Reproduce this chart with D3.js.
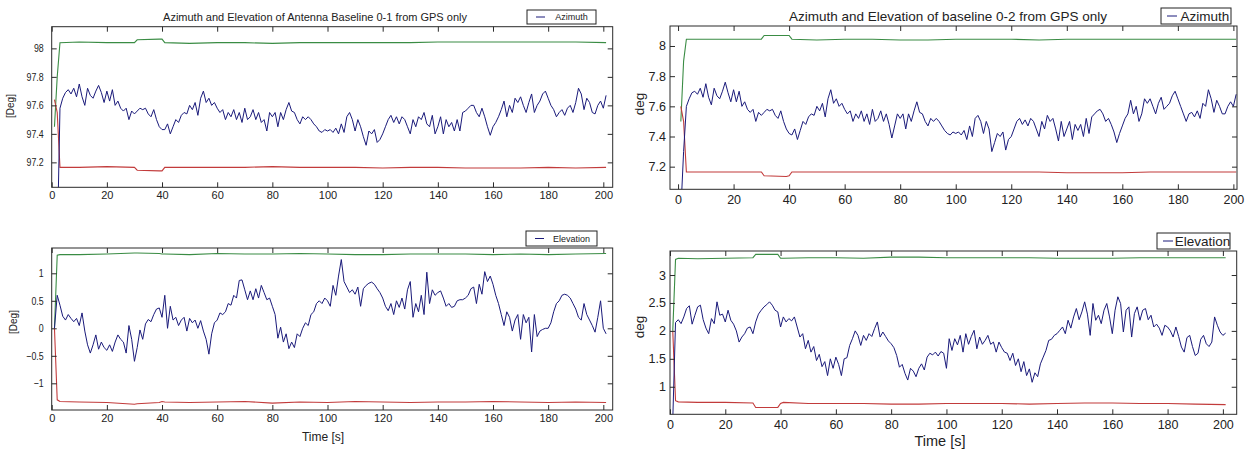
<!DOCTYPE html>
<html><head><meta charset="utf-8">
<script src="https://cdn.jsdelivr.net/npm/d3@7"></script>
<style>
body{margin:0;background:#fff}
svg{display:block}
text{font-family:"Liberation Sans",Arial,Helvetica,sans-serif;fill:#222}
</style>
</head><body><svg id="c" width="1245" height="453"></svg>
<script>
// ---------------- DATA ----------------
const time = d3.range(1, 202); // samples every 1 s, t = 1..201
const boundTime = [1, 2, 3, 10, 20, 30, 31, 39, 40, 41, 50, 60, 70, 80, 90, 100, 110, 120, 130, 140, 150, 160, 170, 180, 190, 201];

const azimuth01 = [
96.5,96.6,97.58,97.65,97.69,97.71,97.68,97.72,97.66,97.75,
97.66,97.60,97.72,97.67,97.65,97.70,97.74,97.69,97.62,97.70,
97.63,97.71,97.60,97.63,97.58,97.56,97.58,97.50,97.56,97.54,
97.56,97.58,97.57,97.58,97.54,97.52,97.57,97.50,97.45,97.43,
97.43,97.47,97.40,97.45,97.50,97.48,97.53,97.55,97.54,97.60,
97.57,97.62,97.53,97.65,97.70,97.62,97.65,97.60,97.62,97.58,
97.55,97.57,97.50,97.55,97.52,97.57,97.50,97.55,97.48,97.58,
97.50,97.52,97.57,97.50,97.55,97.48,97.50,97.42,97.55,97.52,
97.55,97.45,97.55,97.50,97.57,97.62,97.56,97.55,97.50,97.47,
97.52,97.50,97.52,97.50,97.47,97.45,97.42,97.41,97.43,97.42,
97.43,97.41,97.44,97.40,97.47,97.41,97.52,97.55,97.50,97.42,
97.50,97.45,97.38,97.32,97.42,97.40,97.43,97.34,97.36,97.40,
97.45,97.50,97.53,97.48,97.52,97.47,97.52,97.50,97.45,97.40,
97.50,97.45,97.52,97.50,97.55,97.47,97.45,97.53,97.40,97.45,
97.52,97.40,97.50,97.45,97.48,97.42,97.50,97.42,97.55,97.56,
97.58,97.60,97.60,97.55,97.52,97.58,97.52,97.45,97.39,97.45,
97.48,97.52,97.57,97.63,97.52,97.60,97.55,97.65,97.62,97.66,
97.60,97.55,97.62,97.68,97.55,97.60,97.63,97.68,97.70,97.65,
97.60,97.57,97.52,97.55,97.57,97.53,97.58,97.60,97.55,97.62,
97.72,97.68,97.57,97.65,97.62,97.55,97.54,97.60,97.63,97.58,
97.67];

const elevation01 = [
0.00,0.60,0.42,0.22,0.15,0.25,0.18,0.12,0.18,0.05,
0.28,-0.05,-0.30,-0.45,-0.30,-0.12,-0.38,-0.25,-0.35,-0.40,
-0.30,-0.42,-0.25,-0.12,-0.20,-0.25,-0.45,0.05,-0.20,-0.60,
-0.35,-0.03,-0.20,0.08,0.16,0.12,0.25,0.35,0.37,0.20,
0.60,0.00,0.40,0.15,0.20,0.05,0.15,0.20,-0.05,0.18,
0.10,0.15,0.00,0.14,-0.05,-0.20,-0.47,-0.10,0.10,0.15,
0.28,0.25,0.30,0.45,0.42,0.60,0.55,0.87,0.88,0.70,
0.52,0.68,0.52,0.72,0.55,0.78,0.65,0.52,0.55,0.40,
0.25,-0.18,0.02,-0.25,-0.10,-0.37,-0.25,-0.35,-0.10,-0.15,
0.00,0.10,0.05,0.25,0.30,0.45,0.50,0.45,0.55,0.50,
0.40,0.78,0.60,0.95,1.25,0.85,0.75,0.65,0.70,0.62,
0.75,0.40,0.72,0.78,0.82,0.84,0.80,0.72,0.65,0.55,
0.40,0.32,0.45,0.25,0.50,0.38,0.55,0.35,0.70,0.85,
0.20,0.45,0.30,0.60,0.25,1.02,0.45,0.70,0.60,0.65,
0.68,0.55,0.40,0.45,0.38,0.40,0.50,0.52,0.52,0.55,
0.60,0.72,0.75,0.45,0.80,0.62,1.03,0.85,0.95,0.80,
0.60,0.45,0.25,0.05,0.30,0.20,-0.05,0.15,0.25,-0.20,
0.25,0.10,0.20,-0.43,0.25,-0.15,-0.05,-0.02,0.00,0.00,
0.10,0.30,0.45,0.50,0.60,0.62,0.60,0.55,0.45,0.35,
0.20,0.15,0.45,0.25,0.15,0.05,-0.07,0.20,0.50,0.00,
-0.10];

const azimuth02 = [
6.90,7.30,7.60,7.65,7.69,7.70,7.68,7.72,7.66,7.75,
7.66,7.61,7.72,7.67,7.65,7.70,7.76,7.69,7.63,7.71,
7.63,7.70,7.60,7.63,7.58,7.56,7.58,7.50,7.56,7.54,
7.56,7.58,7.57,7.58,7.54,7.52,7.57,7.50,7.45,7.42,
7.41,7.45,7.38,7.44,7.50,7.48,7.53,7.55,7.54,7.60,
7.57,7.62,7.53,7.65,7.71,7.62,7.65,7.60,7.62,7.58,
7.55,7.57,7.50,7.55,7.52,7.57,7.50,7.55,7.48,7.58,
7.50,7.52,7.57,7.50,7.55,7.48,7.39,7.47,7.55,7.52,
7.55,7.45,7.55,7.50,7.57,7.63,7.56,7.55,7.50,7.47,
7.52,7.50,7.52,7.50,7.47,7.44,7.42,7.41,7.43,7.42,
7.43,7.41,7.44,7.38,7.47,7.40,7.52,7.54,7.50,7.42,
7.50,7.45,7.30,7.36,7.42,7.40,7.43,7.31,7.38,7.40,
7.45,7.50,7.52,7.48,7.51,7.47,7.52,7.50,7.45,7.40,
7.50,7.45,7.54,7.50,7.52,7.45,7.37,7.50,7.40,7.45,
7.50,7.38,7.48,7.44,7.48,7.40,7.52,7.42,7.53,7.55,
7.57,7.58,7.55,7.50,7.52,7.48,7.43,7.36,7.42,7.47,
7.52,7.55,7.64,7.55,7.60,7.50,7.55,7.65,7.62,7.65,
7.60,7.55,7.62,7.66,7.58,7.60,7.62,7.67,7.70,7.65,
7.60,7.55,7.50,7.55,7.56,7.53,7.57,7.52,7.62,7.60,
7.71,7.65,7.56,7.64,7.60,7.55,7.55,7.60,7.63,7.60,
7.68];

const elevation02 = [
0.40,2.15,2.20,2.13,2.25,2.40,2.45,2.12,2.28,2.43,
2.46,2.20,2.05,1.95,2.22,2.13,2.52,2.28,2.30,2.16,
2.37,2.19,2.12,2.00,1.80,1.89,1.95,2.05,2.07,1.95,
2.16,2.30,2.37,2.43,2.47,2.52,2.46,2.37,2.34,2.07,
2.25,2.16,2.22,2.18,2.25,2.07,1.89,1.95,1.68,1.83,
1.62,1.72,1.47,1.58,1.36,1.45,1.20,1.50,1.33,1.53,
1.40,1.20,1.50,1.52,1.74,1.86,2.00,1.92,1.74,1.92,
1.83,1.95,1.90,2.04,2.16,1.89,1.98,1.90,1.82,1.77,
1.70,1.56,1.35,1.40,1.24,1.12,1.33,1.28,1.18,1.33,
1.41,1.30,1.53,1.60,1.57,1.62,1.55,1.63,1.60,1.33,
1.86,1.65,1.86,1.75,1.92,1.62,1.95,1.76,1.90,2.01,
1.68,1.89,1.76,1.83,1.92,1.76,1.80,1.62,1.80,1.70,
1.62,1.60,1.47,1.60,1.38,1.50,1.27,1.45,1.20,1.32,
1.08,1.25,1.18,1.41,1.53,1.65,1.83,1.85,1.92,1.95,
2.01,2.07,1.95,2.19,2.05,2.25,2.40,2.20,2.34,2.52,
2.30,1.92,2.49,2.19,2.28,2.13,2.37,2.49,2.25,1.95,
2.37,2.61,2.49,1.98,2.37,2.43,1.89,2.31,2.43,2.19,
2.37,2.40,2.20,2.28,2.07,2.12,2.05,1.92,2.10,2.07,
2.00,1.89,2.07,1.90,1.71,1.62,1.88,1.92,1.72,1.56,
1.60,1.85,1.92,1.77,1.72,1.80,2.25,2.10,1.98,1.92,
1.96];

const azUpper01 = [97.45,97.80,98.04,98.045,98.04,98.04,98.06,98.065,98.065,98.04,98.035,98.04,98.04,98.035,98.04,98.04,98.04,98.04,98.04,98.045,98.045,98.045,98.045,98.045,98.045,98.04];
const azLower01 = [97.64,97.55,97.165,97.165,97.17,97.165,97.145,97.14,97.14,97.165,97.165,97.165,97.165,97.17,97.165,97.165,97.165,97.16,97.165,97.165,97.16,97.16,97.16,97.165,97.16,97.165];
const elUpper01 = [0.00,1.33,1.34,1.34,1.35,1.37,1.37,1.36,1.35,1.35,1.34,1.36,1.35,1.35,1.36,1.35,1.34,1.34,1.35,1.35,1.35,1.34,1.35,1.34,1.35,1.36];
const elLower01 = [0.00,-1.30,-1.33,-1.34,-1.35,-1.38,-1.37,-1.35,-1.33,-1.34,-1.35,-1.34,-1.33,-1.36,-1.34,-1.35,-1.33,-1.34,-1.35,-1.34,-1.34,-1.33,-1.34,-1.35,-1.34,-1.35];
const azUpper02 = [7.50,7.90,8.045,8.045,8.045,8.045,8.07,8.07,8.07,8.045,8.04,8.045,8.045,8.04,8.04,8.045,8.045,8.045,8.04,8.045,8.045,8.045,8.045,8.045,8.045,8.045];
const azLower02 = [7.60,7.50,7.165,7.165,7.165,7.165,7.14,7.135,7.14,7.165,7.165,7.165,7.165,7.165,7.165,7.165,7.165,7.165,7.165,7.16,7.16,7.16,7.165,7.165,7.165,7.165];
const elUpper02 = [2.00,3.28,3.30,3.29,3.30,3.31,3.37,3.37,3.30,3.30,3.31,3.31,3.30,3.32,3.32,3.31,3.31,3.31,3.31,3.30,3.30,3.30,3.31,3.31,3.31,3.31];
const elLower02 = [2.00,0.75,0.73,0.72,0.72,0.71,0.63,0.63,0.70,0.72,0.70,0.70,0.70,0.69,0.69,0.70,0.70,0.70,0.69,0.70,0.71,0.71,0.70,0.70,0.69,0.68];

const xTicks = [0,20,40,60,80,100,120,140,160,180,200];
const yTicksAz01 = [97.2,97.4,97.6,97.8,98];
const yTicksEl01 = [-1,-0.5,0,0.5,1];
const yTicksAz02 = [7.2,7.4,7.6,7.8,8];
const yTicksEl02 = [1,1.5,2,2.5,3];

const titles = ["Azimuth and Elevation of Antenna Baseline 0-1 from GPS only", "Azimuth and Elevation of baseline 0-2 from GPS only"];
const legendLabels = ["Azimuth", "Elevation"];
const yLabels = ["[Deg]", "deg"];
const xLabel = "Time [s]";

// ---------------- DRAW ----------------
const svg = d3.select("#c");
const C = {blue:"#1a1a7a", green:"#3a8c44", red:"#c23b3b", axis:"#2a2a2a"};

const small = {tick:11, tickSqueeze:0.8, ylab:10, xlab:12, leg:9, title:11, yPad:8, xPad:4, legLine:[9,18]};
const large = {tick:12.5, tickSqueeze:1, ylab:13.5, xlab:14.5, leg:13.5, title:13.5, yPad:4, xPad:6, legLine:[6,16]};

const panels = [
  {l:51.7, r:612.7, t:26.7, b:187.3, xd:[0,203.4], yd:[97.025,98.152], y:azimuth01, up:azUpper01, lo:azLower01, yt:yTicksAz01,
   st:small, title:titles[0], tx:315, ty:21, leg:legendLabels[0], lb:[527,10,596,24], ylab:yLabels[0], ylx:14, yly:106, xlab:null},
  {l:51.7, r:612.7, t:248, b:410, xd:[0,203.4], yd:[-1.485,1.46], y:elevation01, up:elUpper01, lo:elLower01, yt:yTicksEl01,
   st:small, title:null, leg:legendLabels[1], lb:[526,231,597,246], ylab:yLabels[0], ylx:17, yly:322, xlab:xLabel, xlx:323, xly:441},
  {l:670, r:1237, t:26, b:189.3, xd:[-2.9,201.3], yd:[7.05,8.1325], y:azimuth02, up:azUpper02, lo:azLower02, yt:yTicksAz02,
   st:large, title:titles[1], tx:948, ty:21, leg:legendLabels[0], lb:[1161,8,1231,24], ylab:yLabels[1], ylx:644, yly:104, xlab:null},
  {l:670, r:1236.7, t:251, b:414.3, xd:[0,205], yd:[0.507,3.43], y:elevation02, up:elUpper02, lo:elLower02, yt:yTicksEl02,
   st:large, title:null, leg:legendLabels[1], lb:[1157,233,1230,249], ylab:yLabels[1], ylx:644, yly:327, xlab:xLabel, xlx:940, xly:446}
];

panels.forEach((p, i) => {
  const st = p.st;
  const x = d3.scaleLinear().domain(p.xd).range([p.l, p.r]);
  const y = d3.scaleLinear().domain(p.yd).range([p.b, p.t]);
  const g = svg.append("g");
  const cid = "clip" + i;
  svg.append("defs").append("clipPath").attr("id", cid)
    .append("rect").attr("x", p.l).attr("y", p.t).attr("width", p.r - p.l).attr("height", p.b - p.t);

  const plot = g.append("g").attr("clip-path", `url(#${cid})`);
  const lineB = d3.line().x((d, k) => x(boundTime[k])).y(d => y(d));
  const lineM = d3.line().x((d, k) => x(time[k])).y(d => y(d));
  plot.append("path").attr("d", lineB(p.up)).attr("fill", "none").attr("stroke", C.green).attr("stroke-width", 1.1);
  plot.append("path").attr("d", lineB(p.lo)).attr("fill", "none").attr("stroke", C.red).attr("stroke-width", 1.1);
  plot.append("path").attr("d", lineM(p.y)).attr("fill", "none").attr("stroke", C.blue).attr("stroke-width", 1).attr("stroke-linejoin", "round");

  // axes (inward ticks on all four sides)
  const ax = g.append("g").attr("transform", `translate(0,${p.b})`)
    .call(d3.axisBottom(x).tickValues(xTicks).tickSizeInner(-5).tickSizeOuter(0).tickPadding(st.xPad).tickFormat(d3.format("d")));
  const axT = g.append("g").attr("transform", `translate(0,${p.t})`)
    .call(d3.axisTop(x).tickValues(xTicks).tickSizeInner(-5).tickSizeOuter(0).tickFormat(""));
  const ay = g.append("g").attr("transform", `translate(${p.l},0)`)
    .call(d3.axisLeft(y).tickValues(p.yt).tickSizeInner(-5).tickSizeOuter(0).tickPadding(st.yPad).tickFormat(d => d3.format("")(+d.toFixed(2))));
  const ayR = g.append("g").attr("transform", `translate(${p.r},0)`)
    .call(d3.axisRight(y).tickValues(p.yt).tickSizeInner(-5).tickSizeOuter(0).tickFormat(""));
  [ax, axT, ay, ayR].forEach(a => {
    a.select(".domain").remove();
    a.selectAll("line").attr("stroke", C.axis);
    a.selectAll("text").attr("font-size", st.tick).attr("font-family", null).style("fill", "#222");
  });
  if (st.tickSqueeze < 1) {
    ay.selectAll("text").each(function() {
      const w = this.getComputedTextLength();
      d3.select(this).attr("textLength", w * st.tickSqueeze).attr("lengthAdjust", "spacingAndGlyphs");
    });
  }
  g.append("rect").attr("x", p.l).attr("y", p.t).attr("width", p.r - p.l).attr("height", p.b - p.t)
    .attr("fill", "none").attr("stroke", C.axis).attr("stroke-width", 1);

  // y label
  g.append("text").attr("transform", `translate(${p.ylx},${p.yly}) rotate(-90)`)
    .attr("text-anchor", "middle").attr("font-size", st.ylab).text(p.ylab);
  // x label
  if (p.xlab) g.append("text").attr("x", p.xlx).attr("y", p.xly).attr("text-anchor", "middle")
    .attr("font-size", st.xlab).text(p.xlab);
  // title
  if (p.title) g.append("text").attr("x", p.tx).attr("y", p.ty).attr("text-anchor", "middle")
    .attr("font-size", st.title).text(p.title);
  // legend
  const [bx0, by0, bx1, by1] = p.lb;
  const lg = g.append("g");
  lg.append("rect").attr("x", bx0).attr("y", by0).attr("width", bx1 - bx0).attr("height", by1 - by0)
    .attr("fill", "#fff").attr("stroke", "#222").attr("stroke-width", 1);
  const ym = (by0 + by1) / 2;
  lg.append("line").attr("x1", bx0 + st.legLine[0]).attr("x2", bx0 + st.legLine[1]).attr("y1", ym).attr("y2", ym)
    .attr("stroke", C.blue).attr("stroke-width", 1);
  lg.append("text").attr("x", (bx0 + st.legLine[1] + bx1) / 2 + 1).attr("y", ym).attr("dy", "0.35em")
    .attr("text-anchor", "middle").attr("font-size", st.leg).text(p.leg);
});
</script>
</body></html>
